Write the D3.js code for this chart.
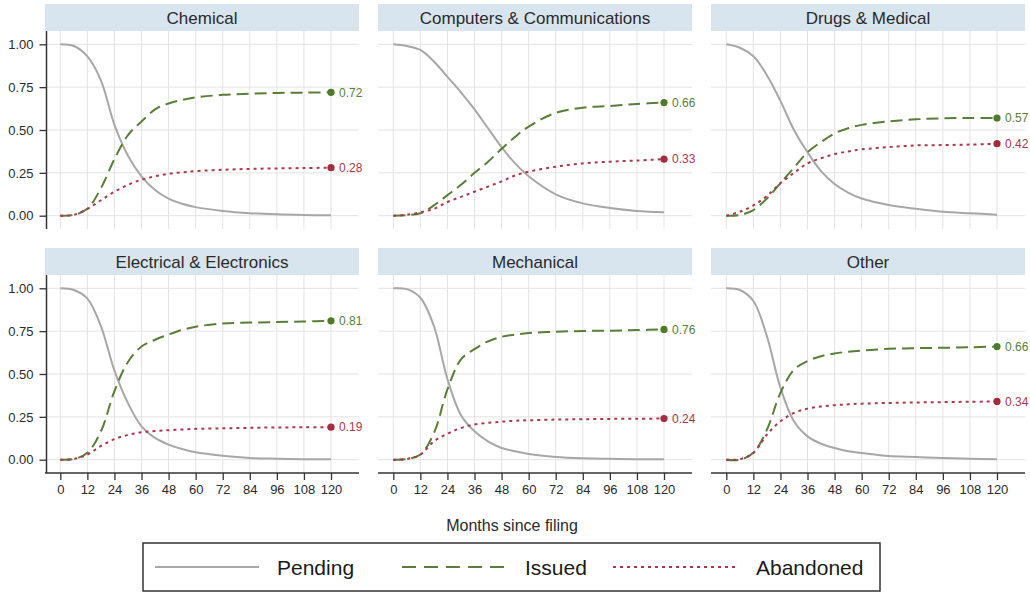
<!DOCTYPE html>
<html>
<head>
<meta charset="utf-8">
<script src="https://cdn.jsdelivr.net/npm/d3@7"></script>
<style>
  html, body { margin: 0; padding: 0; background: #fff; }
  svg { display: block; font-family: "Liberation Sans", Arial, Helvetica, sans-serif; }
</style>
</head>
<body>
<svg id="chart" width="1030" height="594"></svg>
<script>
// ---------------- DATA ----------------
const categories = ["Chemical", "Computers & Communications", "Drugs & Medical",
                    "Electrical & Electronics", "Mechanical", "Other"];
const months = [0, 6, 12, 18, 24, 30, 36, 42, 48, 54, 60, 72, 84, 96, 108, 120];
const xTicks = [0, 12, 24, 36, 48, 60, 72, 84, 96, 108, 120];
const yTicks = [0, 0.25, 0.5, 0.75, 1];
const seriesNames = ["Pending", "Issued", "Abandoned"];

// Pending share, one row per category (aligned with months)
const pending = [
  [1.00, 0.99, 0.93, 0.79, 0.53, 0.35, 0.23, 0.15, 0.10, 0.07, 0.05, 0.028, 0.015, 0.008, 0.004, 0.002],
  [1.00, 0.99, 0.967, 0.90, 0.81, 0.72, 0.62, 0.51, 0.40, 0.305, 0.23, 0.125, 0.072, 0.045, 0.028, 0.02],
  [1.00, 0.98, 0.93, 0.82, 0.67, 0.50, 0.37, 0.26, 0.185, 0.135, 0.10, 0.062, 0.04, 0.023, 0.014, 0.006],
  [1.00, 0.99, 0.94, 0.78, 0.52, 0.33, 0.195, 0.127, 0.088, 0.062, 0.043, 0.023, 0.01, 0.006, 0.003, 0.002],
  [1.00, 0.995, 0.945, 0.78, 0.47, 0.26, 0.166, 0.107, 0.068, 0.049, 0.033, 0.016, 0.008, 0.005, 0.003, 0.002],
  [1.00, 0.99, 0.926, 0.72, 0.42, 0.224, 0.136, 0.093, 0.068, 0.049, 0.039, 0.021, 0.016, 0.01, 0.006, 0.003]
];
// Issued share
const issued = [
  [0, 0.005, 0.04, 0.16, 0.33, 0.47, 0.55, 0.62, 0.655, 0.675, 0.69, 0.705, 0.712, 0.716, 0.718, 0.72],
  [0, 0.003, 0.014, 0.06, 0.12, 0.18, 0.25, 0.315, 0.39, 0.46, 0.52, 0.60, 0.63, 0.64, 0.652, 0.66],
  [0, 0.004, 0.033, 0.10, 0.19, 0.28, 0.37, 0.43, 0.48, 0.51, 0.53, 0.55, 0.562, 0.568, 0.57, 0.57],
  [0, 0.004, 0.04, 0.165, 0.40, 0.57, 0.66, 0.70, 0.73, 0.757, 0.776, 0.795, 0.80, 0.803, 0.806, 0.81],
  [0, 0.004, 0.03, 0.155, 0.41, 0.585, 0.645, 0.69, 0.717, 0.73, 0.739, 0.747, 0.751, 0.753, 0.756, 0.76],
  [0, 0.0, 0.04, 0.175, 0.39, 0.525, 0.575, 0.604, 0.62, 0.63, 0.637, 0.647, 0.651, 0.653, 0.656, 0.66]
];
// Abandoned share
const abandoned = [
  [0, 0.005, 0.04, 0.09, 0.14, 0.18, 0.21, 0.23, 0.245, 0.253, 0.26, 0.268, 0.273, 0.276, 0.278, 0.28],
  [0, 0.005, 0.02, 0.04, 0.08, 0.11, 0.14, 0.17, 0.20, 0.235, 0.257, 0.286, 0.305, 0.315, 0.322, 0.33],
  [0, 0.023, 0.06, 0.115, 0.19, 0.25, 0.305, 0.335, 0.36, 0.375, 0.387, 0.40, 0.41, 0.412, 0.415, 0.42],
  [0, 0.004, 0.03, 0.08, 0.12, 0.145, 0.16, 0.167, 0.172, 0.176, 0.18, 0.183, 0.186, 0.188, 0.189, 0.19],
  [0, 0.004, 0.03, 0.107, 0.152, 0.185, 0.205, 0.215, 0.222, 0.227, 0.23, 0.234, 0.236, 0.238, 0.239, 0.24],
  [0, 0.003, 0.04, 0.146, 0.224, 0.273, 0.298, 0.31, 0.318, 0.323, 0.327, 0.331, 0.334, 0.336, 0.338, 0.34]
];

// ---------------- STYLE ----------------
const colors = { Pending: "#a7a7a7", Issued: "#5b7d37", Abandoned: "#a8394b" };
const dotColors = { Issued: "#4e7a2a", Abandoned: "#a32c3e" };
const dashes = { Pending: null, Issued: "12,6", Abandoned: "3,4" };

const svg = d3.select("#chart");
const colLeft = [45, 378, 711];
const rowTop = [4, 248];
const panelW = 314, headerH = 27, plotH = 198, pad = 13.3;
const fmt = d3.format(".2f");

categories.forEach((cat, i) => {
  const col = i % 3, row = Math.floor(i / 3);
  const left = colLeft[col], top = rowTop[row];
  const plotTop = top + headerH, plotBottom = plotTop + plotH;

  const x = d3.scaleLinear().domain([0, 120]).range([left + 15.3, left + 286]);
  const y = d3.scaleLinear().domain([0, 1]).range([plotBottom - pad, plotTop + pad]);

  const g = svg.append("g");

  // header strip
  g.append("rect").attr("x", left).attr("y", top).attr("width", panelW).attr("height", headerH)
    .attr("fill", "#d8e5ee");
  g.append("text").attr("x", left + panelW / 2).attr("y", top + headerH / 2 + 6)
    .attr("text-anchor", "middle").attr("font-size", 17).attr("fill", "#2a2a2a").text(cat);

  // grid
  g.append("g").selectAll("line").data(yTicks).join("line")
    .attr("x1", left).attr("x2", left + panelW)
    .attr("y1", d => y(d)).attr("y2", d => y(d))
    .attr("stroke", "#e3e3e3").attr("stroke-width", 1);
  g.append("g").selectAll("line").data(xTicks).join("line")
    .attr("x1", d => x(d)).attr("x2", d => x(d))
    .attr("y1", plotTop).attr("y2", plotBottom)
    .attr("stroke", "#e3e3e3").attr("stroke-width", 1);

  // y axis (left column only)
  if (col === 0) {
    const ya = g.append("g").attr("transform", `translate(${left + 1.5},0)`)
      .call(d3.axisLeft(y).tickValues(yTicks).tickFormat(fmt).tickSize(7).tickPadding(6));
    ya.select(".domain").remove();
    ya.selectAll(".tick line").attr("stroke", "#333").attr("stroke-width", 1.3);
    ya.selectAll(".tick text").attr("font-size", 13).attr("fill", "#2a2a2a")
      .style("font-family", "Liberation Sans, Arial, sans-serif");
    g.append("line").attr("x1", left + 1.5).attr("x2", left + 1.5)
      .attr("y1", plotTop).attr("y2", plotBottom)
      .attr("stroke", "#333").attr("stroke-width", 1.5);
  }
  // x axis (bottom row only)
  if (row === 1) {
    const xa = g.append("g").attr("transform", `translate(0,${plotBottom})`)
      .call(d3.axisBottom(x).tickValues(xTicks).tickSize(7).tickPadding(5));
    xa.select(".domain").remove();
    xa.selectAll(".tick line").attr("stroke", "#333").attr("stroke-width", 1.3);
    xa.selectAll(".tick text").attr("font-size", 13).attr("fill", "#2a2a2a")
      .style("font-family", "Liberation Sans, Arial, sans-serif");
    g.append("line").attr("x1", left).attr("x2", left + panelW)
      .attr("y1", plotBottom).attr("y2", plotBottom)
      .attr("stroke", "#333").attr("stroke-width", 1.5);
  }

  const data = { Pending: pending[i], Issued: issued[i], Abandoned: abandoned[i] };
  const line = d3.line().x((d, k) => x(months[k])).y(d => y(d)).curve(d3.curveCatmullRom.alpha(0.5));

  seriesNames.forEach(s => {
    g.append("path").datum(data[s]).attr("d", line)
      .attr("fill", "none").attr("stroke", colors[s]).attr("stroke-width", 2)
      .attr("stroke-dasharray", dashes[s]);
  });
  ["Issued", "Abandoned"].forEach(s => {
    const v = data[s][data[s].length - 1];
    const m = months[months.length - 1];
    g.append("circle").attr("cx", x(m)).attr("cy", y(v)).attr("r", 3.6).attr("fill", dotColors[s]);
    g.append("text").attr("x", x(m) + 8).attr("y", y(v) + 4.3)
      .attr("font-size", 12).attr("fill", colors[s]).text(fmt(v));
  });
});

// x axis title
svg.append("text").attr("x", 512).attr("y", 531).attr("text-anchor", "middle")
  .attr("font-size", 16).attr("fill", "#2a2a2a").text("Months since filing");

// legend
const lg = svg.append("g");
lg.append("rect").attr("x", 143).attr("y", 543).attr("width", 737).attr("height", 48)
  .attr("fill", "#fff").attr("stroke", "#333").attr("stroke-width", 1.5);
const legendItems = [
  { s: "Pending", x1: 155, x2: 259, tx: 277 },
  { s: "Issued", x1: 402, x2: 510, tx: 525 },
  { s: "Abandoned", x1: 613, x2: 738, tx: 756 }
];
legendItems.forEach(it => {
  lg.append("line").attr("x1", it.x1).attr("x2", it.x2).attr("y1", 567).attr("y2", 567)
    .attr("stroke", colors[it.s]).attr("stroke-width", 2.2)
    .attr("stroke-dasharray", it.s === "Issued" ? "14,8" : dashes[it.s]);
  lg.append("text").attr("x", it.tx).attr("y", 575).attr("font-size", 21)
    .attr("fill", "#1a1a1a").text(it.s);
});
</script>
</body>
</html>
